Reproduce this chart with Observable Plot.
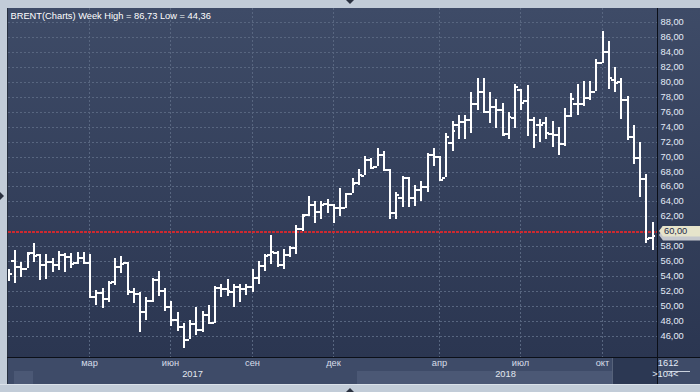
<!DOCTYPE html>
<html><head><meta charset="utf-8">
<script src="https://cdn.jsdelivr.net/npm/d3@7"></script>
<script src="https://cdn.jsdelivr.net/npm/@observablehq/plot@0.6"></script>
<style>
body{margin:0;background:#c2ccd8;font-family:"Liberation Sans",Arial,sans-serif}
#wrap{position:relative;width:700px;height:392px;overflow:hidden;background:#c2ccd8}
.abs{position:absolute}
#wrap svg{position:absolute;left:0;top:0}
</style></head><body>
<div id="wrap">
  <div class="abs" style="left:7px;top:8px;width:650px;height:349px;background:linear-gradient(#3e4b67,#2b3651);border-left:1px solid #27303f;box-sizing:border-box"></div>
  <div class="abs" style="left:657px;top:8px;width:43px;height:349px;background:linear-gradient(#3e4b67,#2b3651)"></div>
  <div class="abs" style="left:7px;top:357px;width:693px;height:27px;background:#3e4b68;border-left:1px solid #27303f;box-sizing:border-box"></div>
  <div class="abs" style="left:14px;top:371px;width:19px;height:13px;background:#4b5875"></div>
  <div class="abs" style="left:357px;top:371px;width:255px;height:13px;background:#4b5875"></div>
  <div class="abs" style="left:612px;top:358px;width:45px;height:26px;background:#2c3853;border-left:1px solid #56627a;box-sizing:border-box"></div>
  <div class="abs" style="left:7px;top:357px;width:693px;height:1px;background:#0b0f18"></div>
  <div class="abs" style="left:657px;top:8px;width:1px;height:376px;background:#0b0f18"></div>
  <div class="abs" style="left:0;top:384px;width:700px;height:1px;background:#dbe2ea"></div>
  <div class="abs" style="left:667px;top:371px;width:23px;height:1px;background:#c9d1dd"></div>
  <div class="abs" style="left:346px;top:0;width:0;height:0;border-left:4px solid transparent;border-right:4px solid transparent;border-top:4px solid #2a3140"></div>
  <div class="abs" style="left:0;top:192px;width:0;height:0;border-top:4px solid transparent;border-bottom:4px solid transparent;border-left:4px solid #2a3140"></div>
  <div class="abs" style="left:346px;top:388px;width:0;height:0;border-left:4px solid transparent;border-right:4px solid transparent;border-bottom:4px solid #2a3140"></div>
</div>
<script>
// Weekly BRENT bars, first week 2016-12-05, 104 weeks
const startWeek = "2016-12-05";
const open = [54.0,56.2,55.3,55.1,57.3,56.9,55.6,56.0,55.6,56.9,56.7,55.9,56.5,
  55.9,51.4,51.9,51.1,53.3,55.4,55.9,52.0,51.8,49.3,50.8,53.6,52.2,
  50.0,48.3,47.3,45.6,47.8,46.9,49.0,47.9,52.5,52.4,52.0,52.7,52.4,
  52.7,53.9,55.5,56.9,57.2,55.6,57.0,57.9,60.5,62.3,63.7,62.7,63.8,
  63.6,63.3,63.3,65.1,66.6,67.5,69.7,68.7,70.3,68.3,62.6,64.6,67.3,64.6,65.6,66.0,70.3,
  70.1,67.2,72.0,74.4,74.8,75.0,77.1,78.8,76.1,76.8,76.3,73.1,75.3,
  79.0,77.6,75.0,74.3,74.6,73.2,73.0,71.8,75.5,77.1,77.1,78.0,78.8,
  82.7,84.1,80.4,80.1,77.7,72.8,70.0,67.1,59.2];
const high = [55.0,57.5,55.9,57.2,58.4,57.0,56.9,56.4,57.4,57.1,57.1,57.3,57.3,
  56.9,52.1,52.4,53.4,56.4,56.7,55.9,52.4,51.9,51.2,53.8,54.7,52.4,
  50.7,49.2,47.8,48.1,49.9,49.3,50.1,52.7,53.0,53.6,52.9,52.9,53.0,
  55.0,56.0,57.0,59.5,57.4,57.6,58.0,60.8,62.3,64.7,64.0,64.0,64.3,
  63.7,65.8,65.1,67.1,68.3,70.1,69.8,71.2,70.7,68.4,65.2,67.4,67.3,66.2,66.7,70.5,71.1,
  70.1,73.1,74.7,75.6,75.6,78.6,80.5,80.5,78.7,77.7,77.2,75.9,79.7,
  79.1,79.6,75.3,75.0,75.3,74.7,74.0,76.5,78.5,79.7,80.1,80.1,83.0,
  86.73,85.5,82.0,80.5,78.1,74.2,71.9,67.7,61.3];
const low = [53.3,53.1,53.9,55.1,55.9,53.5,53.6,54.5,54.8,54.5,55.1,55.6,55.6,
  51.2,50.2,49.8,50.6,52.8,54.4,51.5,50.4,46.6,48.2,50.6,51.4,49.3,
  47.4,46.7,44.36,45.6,46.1,46.6,47.8,47.7,51.2,51.4,49.9,50.5,51.5,
  51.9,52.9,54.7,55.6,55.2,55.0,56.6,57.0,60.0,62.0,61.1,61.6,62.5,
  61.1,62.0,63.1,65.1,66.2,67.5,68.3,68.7,68.2,61.7,61.7,63.3,63.2,63.4,64.0,65.3,68.8,
  66.8,67.2,70.8,72.4,72.4,73.1,76.2,76.0,74.5,73.8,73.0,72.4,73.8,
  76.2,72.7,71.2,71.9,72.4,71.3,70.2,71.4,75.3,75.6,76.8,77.5,78.8,
  82.5,79.1,78.7,75.0,72.2,69.0,64.6,58.5,57.5];
const close = [54.4,55.3,55.1,57.1,56.8,55.6,56.0,55.6,56.9,56.7,55.7,56.5,55.9,
  51.3,51.9,51.1,53.2,55.3,55.8,52.1,51.8,49.3,50.8,53.6,52.2,50.0,
  48.3,47.3,45.6,47.8,46.9,48.9,47.9,52.6,52.4,52.1,52.7,52.4,52.7,
  53.9,55.5,56.8,57.4,55.6,57.0,57.9,60.5,62.2,63.7,62.7,63.7,63.7,
  63.3,63.3,65.1,66.5,67.7,69.7,68.6,70.3,68.3,62.6,65.0,67.3,64.6,65.6,66.0,70.3,70.1,
  67.0,72.7,73.6,74.8,75.0,77.1,78.8,76.1,76.8,76.3,73.0,75.4,79.4,
  77.3,75.0,73.0,74.4,73.3,73.0,71.8,75.5,77.8,77.1,78.0,78.8,82.7,
  84.1,80.6,80.0,77.7,72.7,70.0,67.1,59.1,59.5];
const yTicks = [46,48,50,52,54,56,58,60,62,64,66,68,70,72,74,76,78,80,82,84,86,88];
const monthTickWeeks = ["2017-03-06","2017-06-05","2017-09-04","2017-12-04","2018-04-02","2018-07-02","2018-10-01"];
const monthTickLabels = ["мар","июн","сен","дек","апр","июл","окт"];
const yearLabels = ["2017","2018"];
const title = "BRENT(Charts) Week High = 86,73 Low = 44,36";
const markerLevel = 60;
const statusTop = "1612";
const statusBottom = ">104<";

const t0 = new Date(startWeek + "T00:00:00Z");
const weekIndex = s => Math.round((new Date(s + "T00:00:00Z") - t0) / (7 * 864e5));
const bars = open.map((o, i) => ({
  i, date: d3.utcWeek.offset(t0, i), open: o, high: high[i], low: low[i], close: close[i]
}));
const xDomain = [0.04, 103.88];
const monthTicks = monthTickWeeks.map((s, k) => ({i: weekIndex(s), label: monthTickLabels[k]}));
const years = yearLabels.map(y => {
  const idx = bars.filter(b => b.date.getUTCFullYear() === +y).map(b => b.i);
  const a = Math.max(xDomain[0], d3.min(idx) - 0.5), b = Math.min(xDomain[1], d3.max(idx) + 0.5);
  return {i: (a + b) / 2, label: y};
});
const fmt = v => v.toFixed(2).replace(".", ",");
const grid = "#586680";
const font = "Liberation Sans, Arial, sans-serif";

const chart = Plot.plot({
  width: 700, height: 392,
  marginLeft: 8, marginRight: 43, marginTop: 8, marginBottom: 35,
  x: {domain: xDomain, axis: null, round: true},
  y: {domain: [43.19, 89.87], axis: null, round: true},
  style: {background: "transparent", fontFamily: font, overflow: "visible"},
  marks: [
    Plot.ruleY(yTicks.filter(d => d !== markerLevel), {stroke: grid, strokeDasharray: "2,2"}),
    Plot.ruleX(monthTicks, {x: "i", stroke: grid, strokeDasharray: "2,2"}),
    Plot.ruleY([markerLevel], {stroke: "#cc2a30", strokeWidth: 2, dy: 0.5, strokeDasharray: "3,1"}),
    Plot.ruleX(bars, {x: "i", y1: "low", y2: "high", stroke: "#ffffff", strokeWidth: 2, dx: 0.5, clip: true}),
    Plot.ruleY(bars, {y: "open", x1: d => d.i - 0.55, x2: "i", stroke: "#ffffff", strokeWidth: 2, dy: 0.5, clip: true}),
    Plot.ruleY(bars, {y: "close", x1: "i", x2: d => d.i + 0.6, stroke: "#ffffff", strokeWidth: 2, dy: 0.5, clip: true}),
    Plot.text([title], {frameAnchor: "top-left", dx: 2, dy: 4, lineAnchor: "top", textAnchor: "start", fill: "#ffffff", fontSize: 9.3}),
    Plot.text(yTicks.filter(d => d !== markerLevel), {y: d => d, text: d => fmt(d), frameAnchor: "right", dx: 3, textAnchor: "start", fill: "#e4ebf7", fontSize: 9.3}),
    Plot.text(monthTicks, {x: "i", text: "label", frameAnchor: "bottom", dy: 8.5, fill: "#d6dde8", fontSize: 9.3}),
    Plot.text(years, {x: "i", text: "label", frameAnchor: "bottom", dy: 19.5, fill: "#e2e7ef", fontSize: 9.3}),
    Plot.text([statusTop], {frameAnchor: "bottom-right", dx: 21, dy: 8, fill: "#e4ebf7", fontSize: 9.3}),
    Plot.text([statusBottom], {frameAnchor: "bottom-right", dx: 21, dy: 19.5, fill: "#e4ebf7", fontSize: 9.3})
  ]
});
const wrap = document.getElementById("wrap");
wrap.appendChild(chart);

const ys = chart.scale("y");
// price marker boxes on the right scale (last close box sits behind the 60,00 marker)
function marker(v, bg, color, z, label) {
  const d = document.createElement("div");
  const y = ys.apply(v);
  d.className = "abs";
  d.style.cssText = `left:659px;top:${(y - 5.5).toFixed(1)}px;width:41px;height:11px;background:${bg};` +
    `clip-path:polygon(0 50%,4px 0,100% 0,100% 100%,4px 100%);font:9.3px ${font};color:${color};` +
    `line-height:11px;padding-left:5px;box-sizing:border-box;z-index:${z}`;
  if (label) d.textContent = fmt(v);
  wrap.appendChild(d);
}
marker(close[close.length - 1], "#c5c8cd", "#3a4660", 2, false);
marker(markerLevel, "#e6e4cb", "#1c2a48", 3, true);
</script>
</body></html>
